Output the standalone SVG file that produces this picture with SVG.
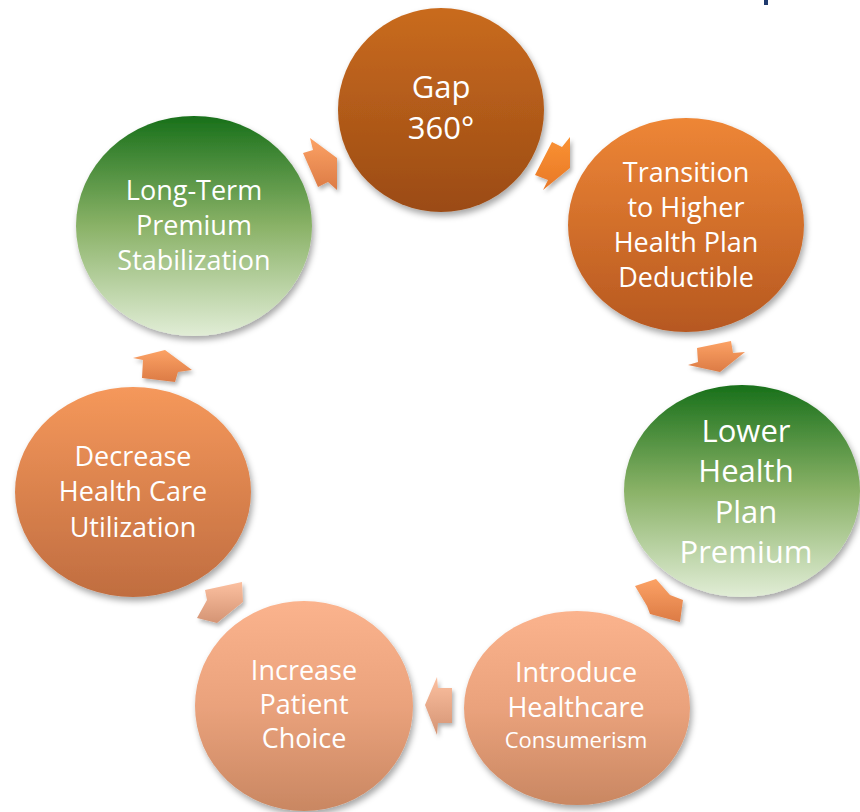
<svg xmlns="http://www.w3.org/2000/svg" width="860" height="812" viewBox="0 0 860 812">
<defs>
<linearGradient id="gGap" x1="0" y1="0" x2="0" y2="1"><stop offset="0" stop-color="#C96B1E"/><stop offset="1" stop-color="#9B4B15"/></linearGradient>
<linearGradient id="gTrans" x1="0" y1="0" x2="0" y2="1"><stop offset="0" stop-color="#EE8636"/><stop offset="1" stop-color="#B65820"/></linearGradient>
<linearGradient id="gGreen" x1="0" y1="0" x2="0" y2="1"><stop offset="0" stop-color="#18701A"/><stop offset="0.5" stop-color="#8AB267"/><stop offset="1" stop-color="#E1EDD6"/></linearGradient>
<linearGradient id="gPeach" x1="0" y1="0" x2="0" y2="1"><stop offset="0" stop-color="#FBB38D"/><stop offset="0.5" stop-color="#EAA27C"/><stop offset="1" stop-color="#C98762"/></linearGradient>
<linearGradient id="gDec" x1="0" y1="0" x2="0" y2="1"><stop offset="0" stop-color="#F5985B"/><stop offset="1" stop-color="#C06D40"/></linearGradient>
<linearGradient id="aOr" x1="0" y1="0" x2="0" y2="1"><stop offset="0" stop-color="#FCA265"/><stop offset="1" stop-color="#DC7B45"/></linearGradient>
<linearGradient id="aBright" x1="0" y1="0" x2="0" y2="1"><stop offset="0" stop-color="#FA9232"/><stop offset="1" stop-color="#E87828"/></linearGradient>
<linearGradient id="aPeach" x1="0" y1="0" x2="0" y2="1"><stop offset="0" stop-color="#FCC0A0"/><stop offset="1" stop-color="#D49474"/></linearGradient>
<filter id="sh" x="-20%" y="-20%" width="140%" height="140%">
<feDropShadow dx="2" dy="4" stdDeviation="3" flood-color="#000" flood-opacity="0.35"/>
</filter>
<filter id="ash" x="-30%" y="-30%" width="160%" height="160%">
<feDropShadow dx="2" dy="3" stdDeviation="2" flood-color="#000" flood-opacity="0.3"/>
</filter>
</defs>
<style>
.lbl{font-family:"Open Sans","Noto Sans",sans-serif;fill:#FFFFFF;text-anchor:middle}
.c{filter:url(#sh)}
.a{filter:url(#ash)}
</style>
<rect width="860" height="812" fill="#FFFFFF"/>
<rect x="764" y="0" width="4" height="5" fill="#1F3A6E"/>

<g id="connectors">
<polygon class="a" fill="url(#aOr)" points="303,153 313,150 310,138 337,158 337,190 328,182 318,187"/>
<polygon class="a" fill="url(#aBright)" points="552,142 562,147 570,137 570,168 543,190 548,180 535,175"/>
<polygon class="a" fill="url(#aOr)" points="697,348 731,341 733,353 745,352 720,372 688,365 698,362"/>
<polygon class="a" fill="url(#aOr)" points="635,586 656,579 670,595 683,600 680,622 650,614 647,606"/>
<polygon class="a" fill="url(#aPeach)" points="437,677 438,688 452,688 452,723 438,723 437,735 425,705"/>
<polygon class="a" fill="url(#aPeach)" points="197,618 207,600 205,590 242,582 243,602 217,623"/>
<polygon class="a" fill="url(#aOr)" points="133,358 165,350 192,370 178,372 175,382 142,378 143,360"/>
</g>

<g id="node-gap">
<ellipse class="c" cx="441" cy="110" rx="103" ry="102" fill="url(#gGap)"/>
<text class="lbl" x="441" y="98" font-size="31">Gap</text>
<text class="lbl" x="441" y="139" font-size="31">360°</text>
</g>

<g id="node-transition">
<ellipse class="c" cx="686" cy="225" rx="118" ry="107" fill="url(#gTrans)"/>
<text class="lbl" font-size="27"><tspan x="686" y="182">Transition</tspan><tspan x="686" y="217">to Higher</tspan><tspan x="686" y="252">Health Plan</tspan><tspan x="686" y="287">Deductible</tspan></text>
</g>

<g id="node-lower">
<ellipse class="c" cx="742" cy="491" rx="118" ry="106" fill="url(#gGreen)"/>
<text class="lbl" font-size="31"><tspan x="746" y="442">Lower</tspan><tspan x="746" y="482">Health</tspan><tspan x="746" y="523">Plan</tspan><tspan x="746" y="563">Premium</tspan></text>
</g>

<g id="node-introduce">
<ellipse class="c" cx="577" cy="708" rx="113" ry="97" fill="url(#gPeach)"/>
<text class="lbl" font-size="27"><tspan x="576" y="682">Introduce</tspan><tspan x="576" y="717">Healthcare</tspan></text>
<text class="lbl" x="576" y="748" font-size="22">Consumerism</text>
</g>

<g id="node-increase">
<ellipse class="c" cx="304" cy="706" rx="109" ry="105" fill="url(#gPeach)"/>
<text class="lbl" font-size="27"><tspan x="304" y="680">Increase</tspan><tspan x="304" y="714">Patient</tspan><tspan x="304" y="748">Choice</tspan></text>
</g>

<g id="node-decrease">
<ellipse class="c" cx="133" cy="492" rx="118" ry="105" fill="url(#gDec)"/>
<text class="lbl" font-size="27"><tspan x="133" y="466">Decrease</tspan><tspan x="133" y="501">Health Care</tspan><tspan x="133" y="537">Utilization</tspan></text>
</g>

<g id="node-longterm">
<ellipse class="c" cx="194" cy="226" rx="118" ry="110" fill="url(#gGreen)"/>
<text class="lbl" font-size="27"><tspan x="194" y="200">Long-Term</tspan><tspan x="194" y="235">Premium</tspan><tspan x="194" y="270">Stabilization</tspan></text>
</g>
</svg>
